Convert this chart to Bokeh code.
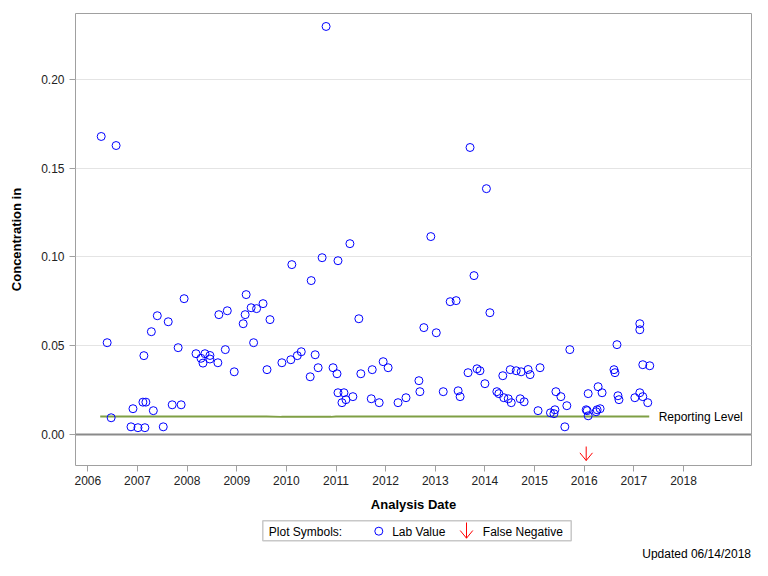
from bokeh.plotting import figure
from bokeh.models import Range1d, FixedTicker, NumeralTickFormatter, Span, Label
from bokeh.layouts import column
from bokeh.core.properties import value
from bokeh.embed import file_html
from bokeh.resources import INLINE

FONT = "Liberation Sans"

# ---------------- data ----------------
analysis_date = [
    2006.27, 2006.39, 2006.47, 2006.57, 2006.87, 2006.91, 2007.01, 2007.11, 2007.13, 2007.15,
    2007.17, 2007.28, 2007.32, 2007.40, 2007.52, 2007.62, 2007.70, 2007.82, 2007.88, 2007.94,
    2008.18, 2008.28, 2008.32, 2008.36, 2008.46, 2008.46, 2008.62, 2008.64, 2008.77, 2008.81,
    2008.95, 2009.13, 2009.17, 2009.19, 2009.29, 2009.34, 2009.40, 2009.53, 2009.61, 2009.67,
    2009.91, 2010.09, 2010.11, 2010.22, 2010.30, 2010.48, 2010.50, 2010.58, 2010.64, 2010.72,
    2010.80, 2010.94, 2011.02, 2011.04, 2011.04, 2011.12, 2011.16, 2011.20, 2011.28, 2011.34,
    2011.46, 2011.50, 2011.71, 2011.73, 2011.87, 2011.95, 2012.05, 2012.25, 2012.41, 2012.67,
    2012.69, 2012.77, 2012.91, 2013.02, 2013.16, 2013.30, 2013.42, 2013.46, 2013.50, 2013.66,
    2013.70, 2013.78, 2013.84, 2013.90, 2014.00, 2014.03, 2014.10, 2014.24, 2014.28, 2014.36,
    2014.38, 2014.47, 2014.51, 2014.53, 2014.63, 2014.71, 2014.73, 2014.79, 2014.87, 2014.91,
    2015.07, 2015.11, 2015.32, 2015.39, 2015.41, 2015.43, 2015.53, 2015.61, 2015.65, 2015.71,
    2016.04, 2016.06, 2016.08, 2016.08, 2016.24, 2016.26, 2016.28, 2016.32, 2016.36, 2016.60,
    2016.62, 2016.66, 2016.68, 2016.70, 2017.02, 2017.12, 2017.12, 2017.12, 2017.18, 2017.18,
    2017.28, 2017.32,
]
lab_value = [
    0.1679, 0.0517, 0.0094, 0.1628, 0.0043, 0.0145, 0.0038, 0.0182, 0.0444, 0.0038,
    0.0182, 0.0579, 0.0134, 0.0669, 0.0043, 0.0635, 0.0167, 0.0489, 0.0167, 0.0765,
    0.0455, 0.0429, 0.0402, 0.0455, 0.0445, 0.0425, 0.0404, 0.0675, 0.0478, 0.0697,
    0.0353, 0.0624, 0.0675, 0.0788, 0.0714, 0.0517, 0.0709, 0.0737, 0.0365, 0.0647,
    0.0404, 0.0421, 0.0957, 0.0444, 0.0466, 0.0325, 0.0867, 0.0449, 0.0376, 0.0996,
    0.2299, 0.0376, 0.0342, 0.0979, 0.0235, 0.0179, 0.0235, 0.0196, 0.1075, 0.0213,
    0.0652, 0.0342, 0.0201, 0.0365, 0.0179, 0.0410, 0.0376, 0.0179, 0.0207, 0.0303,
    0.0241, 0.0602, 0.1115, 0.0573, 0.0241, 0.0748, 0.0754, 0.0246, 0.0213, 0.0348,
    0.1617, 0.0895, 0.0370, 0.0359, 0.0286, 0.1385, 0.0686, 0.0241, 0.0230, 0.0331,
    0.0207, 0.0201, 0.0365, 0.0179, 0.0359, 0.0201, 0.0353, 0.0184, 0.0366, 0.0337,
    0.0134, 0.0376, 0.0122, 0.0117, 0.0139, 0.0241, 0.0213, 0.0043, 0.0162, 0.0478,
    0.0139, 0.0134, 0.0105, 0.0230, 0.0128, 0.0139, 0.0269, 0.0145, 0.0235, 0.0365,
    0.0348, 0.0506, 0.0218, 0.0196, 0.0207, 0.0624, 0.0590, 0.0235, 0.0393, 0.0213,
    0.0179, 0.0387,
]
false_negative_date = [2016.04]
false_negative_level = [-0.0147]   # arrow tip position below zero

reporting_date = [2006.25, 2009.60, 2009.90, 2010.90, 2011.00, 2017.31]
reporting_level = [0.0101, 0.0101, 0.0099, 0.0099, 0.0101, 0.0101]

year_ticks = list(range(2006, 2019))
conc_ticks = [0.0, 0.05, 0.10, 0.15, 0.20]

X_MIN, X_MAX = 2005.752, 2019.37
Y_MIN, Y_MAX = -0.0175, 0.2372

# ---------------- main figure ----------------
W, H = 752, 514
ML, MR, MT, MB = 75, 1, 13, 49
p = figure(width=W, height=H, x_range=Range1d(X_MIN, X_MAX), y_range=Range1d(Y_MIN, Y_MAX),
           output_backend="svg", toolbar_location=None,
           min_border_left=ML, min_border_right=MR, min_border_top=MT, min_border_bottom=MB)
p.outline_line_color = "#a0a0a0"
p.outline_line_width = 1
p.background_fill_color = "white"
p.border_fill_color = "white"

p.xgrid.visible = False
p.ygrid.ticker = FixedTicker(ticks=conc_ticks)
p.ygrid.grid_line_color = "#e4e4e4"

p.xaxis.ticker = FixedTicker(ticks=year_ticks)
p.xaxis.formatter = NumeralTickFormatter(format="0")
p.yaxis.ticker = FixedTicker(ticks=conc_ticks)
p.yaxis.formatter = NumeralTickFormatter(format="0.00")
for ax in (p.xaxis, p.yaxis):
    ax.axis_line_color = None
    ax.major_tick_line_color = "#a0a0a0"
    ax.major_tick_out = 6
    ax.major_tick_in = 0
    ax.minor_tick_line_color = None
    ax.major_label_text_font = FONT
    ax.major_label_text_font_size = "12px"
    ax.major_label_text_color = "#222222"
    ax.axis_label_text_font = FONT
    ax.axis_label_text_font_size = "13px"
    ax.axis_label_text_font_style = "bold"
    ax.axis_label_text_color = "black"
p.xaxis.axis_label = "Analysis Date"
p.yaxis.axis_label = "Concentration in"
p.xaxis.major_label_standoff = 4
p.xaxis.axis_label_standoff = 9
p.yaxis.major_label_standoff = 5
p.yaxis.axis_label_standoff = 14

p.add_layout(Span(location=0, dimension="width", line_color="#8a8a8a", line_width=2))

p.line(reporting_date, reporting_level, line_color="#7f9f45", line_width=2)
p.add_layout(Label(x=reporting_date[-1] + 0.19, y=reporting_level[-1], text="Reporting Level",
                   text_font=FONT, text_font_size="12px", text_baseline="middle",
                   text_color="black"))

p.scatter(analysis_date, lab_value, marker="circle", size=8, line_color="blue",
          fill_color=None, line_width=1)

# false-negative arrows (open arrows, pixel-sized)
fw, fh = W - ML - MR, H - MT - MB
px_x = (X_MAX - X_MIN) / fw
px_y = (Y_MAX - Y_MIN) / fh
AL, AW, AH = 14, 6.3, 7.7  # shaft length, half width of head, head length (px)
x0s, y0s, x1s, y1s = [], [], [], []
for xd, yd in zip(false_negative_date, false_negative_level):
    x0s += [xd, xd, xd]
    y0s += [yd, yd, yd]
    x1s += [xd, xd - AW * px_x, xd + AW * px_x]
    y1s += [yd + AL * px_y, yd + AH * px_y, yd + AH * px_y]
p.segment(x0s, y0s, x1s, y1s, line_color="red", line_width=1)

# ---------------- legend / footnote strip ----------------
# the column aligns this strip's frame with the main frame, so use the same borders
# and give the range in page-pixel units
H2 = 560 - H
p2 = figure(width=W, height=H2, x_range=Range1d(ML, W - MR), y_range=Range1d(H2, 0),
            output_backend="svg", toolbar_location=None,
            min_border_left=ML, min_border_right=MR, min_border_top=0, min_border_bottom=0,
            x_axis_type=None, y_axis_type=None)
p2.grid.visible = False
p2.outline_line_color = None

p2.quad(left=[262.3], right=[570.7], top=[6.3], bottom=[26.3], fill_color=None,
        line_color="#c8c8c8", line_width=1.5)
p2.text(x=[268.3, 391.7, 482.3], y=[17, 17, 17],
        text=["Plot Symbols:", "Lab Value", "False Negative"],
        text_font=value(FONT), text_font_size="12px", text_baseline="middle",
        text_align="left", text_color="black")
p2.scatter([378.3], [16.7], marker="circle", size=8, line_color="blue", fill_color=None, line_width=1)
ax_, tip = 466.0, 23.7
p2.segment([ax_, ax_, ax_], [tip, tip, tip], [ax_, ax_ - AW, ax_ + AW], [tip - 15.7, tip - AH, tip - AH],
           line_color="red", line_width=1)
p2.text(x=[750.5], y=[39], text=["Updated 06/14/2018"], text_font=value(FONT),
        text_font_size="12px", text_baseline="middle", text_align="right", text_color="black")

layout = column(p, p2, spacing=0)
open("out.html", "w").write(file_html(layout, INLINE))
